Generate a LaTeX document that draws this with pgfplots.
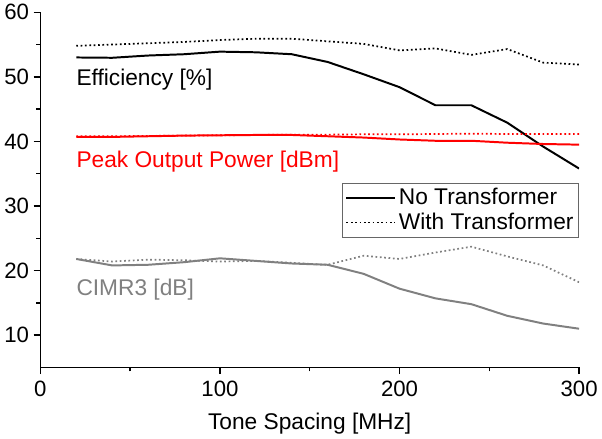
\documentclass[border=0pt]{standalone}
\usepackage{fontspec}
\setmainfont{Liberation Sans}
\usepackage{pgfplots}
\pgfplotsset{compat=1.18}
\definecolor{cgray}{RGB}{128,128,128}
\begin{document}
\begin{tikzpicture}
\begin{axis}[
  scale only axis,
  width=408pt, height=269pt,
  xmin=0, xmax=300, ymin=5, ymax=60,
  axis x line*=bottom, axis y line*=left,
  axis line style={-, line width=1.1pt},
  xtick={0,100,200,300}, ytick={10,20,30,40,50,60},
  minor xtick={50,150,250}, minor ytick={15,25,35,45,55},
  tick align=outside,
  major tick length=5pt, minor tick length=3pt,
  every tick/.style={black, line width=1.1pt},
  /pgf/number format/assume math mode=true,
  ticklabel style={font=\fontsize{16.8}{19}\selectfont},
  xticklabel style={yshift=-2pt},
  xlabel={Tone Spacing [MHz]},
  xlabel style={font=\fontsize{17.2}{20}\selectfont, yshift=-5pt},
  legend style={at={(axis cs:300,33.6)}, anchor=north east, draw=black!60, line width=0.5pt,
    font=\fontsize{17.2}{20}\selectfont, row sep=1pt, inner sep=2pt},
  legend cell align=left,
  legend image code/.code={\draw[#1] (0cm,0cm) -- (1.3cm,0cm);},
]
% Efficiency
\addplot[black, line width=1.5pt] coordinates {
(20,53.0)(40,52.95)(60,53.3)(80,53.5)(100,53.9)(120,53.8)(140,53.5)(160,52.3)(180,50.4)(200,48.4)(220,45.6)(240,45.6)(260,42.9)(280,39.2)(300,35.8)};
\addlegendentry{No Transformer}
\addplot[black, line width=1.3pt, dotted] coordinates {
(20,54.8)(40,55.0)(60,55.2)(80,55.4)(100,55.7)(120,55.9)(140,55.9)(160,55.5)(180,55.1)(200,54.1)(220,54.4)(240,53.4)(260,54.3)(280,52.2)(300,51.9)};
\addlegendentry{With Transformer}
% Peak output power
\addplot[red, line width=1.5pt, forget plot] coordinates {
(20,40.7)(40,40.7)(60,40.8)(80,40.9)(100,40.95)(120,41.0)(140,41.0)(160,40.8)(180,40.6)(200,40.3)(220,40.1)(240,40.1)(260,39.8)(280,39.6)(300,39.5)};
\addplot[red, line width=1.3pt, dotted, forget plot] coordinates {
(20,40.8)(40,40.8)(60,40.85)(80,40.9)(100,40.95)(120,41.0)(140,41.05)(160,41.05)(180,41.1)(200,41.1)(220,41.15)(240,41.2)(260,41.15)(280,41.15)(300,41.15)};
% CIMR3
\addplot[cgray, line width=1.5pt, forget plot] coordinates {
(20,21.8)(40,20.8)(60,20.9)(80,21.3)(100,21.9)(120,21.5)(140,21.1)(160,20.9)(180,19.5)(200,17.2)(220,15.7)(240,14.8)(260,13.0)(280,11.8)(300,11.0)};
\addplot[cgray, line width=1.3pt, dotted, forget plot] coordinates {
(20,21.8)(40,21.4)(60,21.7)(80,21.6)(100,21.4)(120,21.5)(140,21.2)(160,20.9)(180,22.3)(200,21.8)(220,22.8)(240,23.7)(260,22.2)(280,20.8)(300,18.2)};
\node[anchor=west, font=\fontsize{17.2}{20}\selectfont, inner sep=0pt] at (axis cs:20,49.6) {Efficiency [\%]};
\node[anchor=west, font=\fontsize{17.2}{20}\selectfont, inner sep=0pt, text=red] at (axis cs:20,36.9) {Peak Output Power [dBm]};
\node[anchor=west, font=\fontsize{17.2}{20}\selectfont, inner sep=0pt, text=cgray] at (axis cs:20,17.0) {CIMR3 [dB]};
\end{axis}
\end{tikzpicture}
\end{document}
